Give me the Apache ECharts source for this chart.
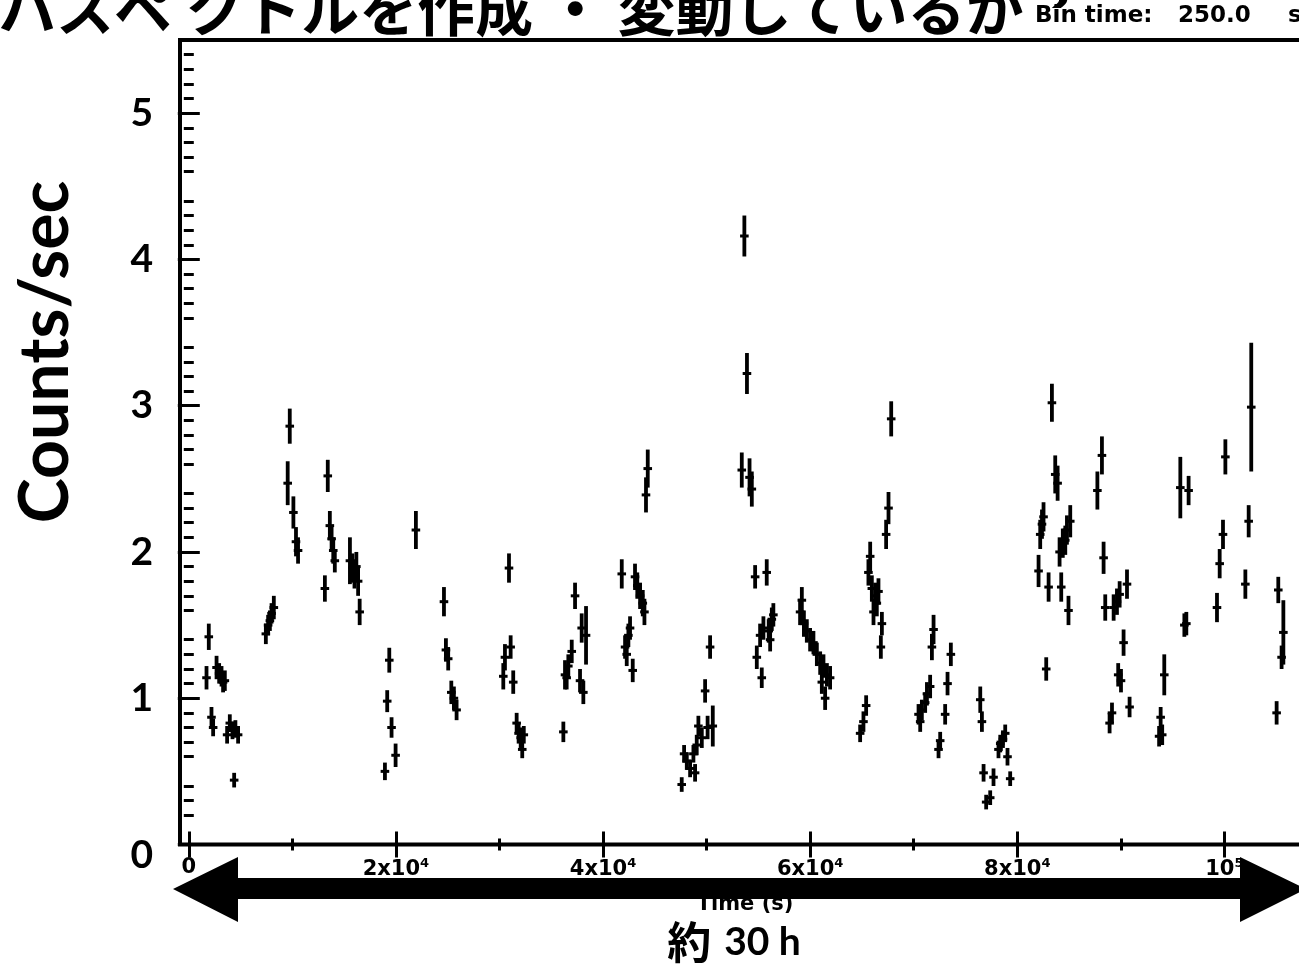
<!DOCTYPE html>
<html>
<head>
<meta charset="utf-8">
<script src="https://cdn.jsdelivr.net/npm/echarts@6/dist/echarts.min.js"></script>
<style>
  html, body { margin: 0; padding: 0; background: #fff; overflow: hidden; }
  #chart { width: 1310px; height: 964px; }
</style>
</head>
<body>
<div id="chart"></div>
<script>
// Light curve, 250 s bins: bin centre time (s), count rate (counts/s), 1-sigma error
const binTime = 250;
const times = [
  1710, 1930, 2190, 2350, 2680, 2930, 3160, 3310, 3480, 3700, 3960, 4220, 4380, 4500, 4760,
  7440, 7660, 7830, 7990, 8210,
  9550, 9750, 10100, 10350, 10550,
  13140, 13420, 13620, 13790, 13950, 14100,
  15560, 15800, 16000, 16180, 16350, 16500,
  18940, 19160, 19360, 19580, 19970,
  21930,
  24640, 24830, 25050, 25350, 25600, 25860,
  30370, 30530, 30920, 31080, 31330, 31660, 31850, 32050, 32200, 32350,
  36170, 36330, 36490, 36650, 36980, 37300, 37780, 37940, 38100, 38360,
  41810, 42130, 42290, 42450, 42610, 42870, 43090, 43310, 43580, 43840, 44000, 44150, 44320,
  47600, 47830, 48090, 48410, 48730, 48890, 49050, 49210, 49540, 49860, 50100, 50340, 50600,
  53400, 53650, 53900, 54150, 54370,
  54690, 54850, 55170, 55330, 55490, 55810, 56000, 56140, 56300, 56450,
  59030, 59200, 59400, 59680, 60000, 60320, 60650, 60970, 61130, 61290, 61450, 61620, 61930,
  64830, 65150, 65410, 65630, 65800, 65960, 66120, 66280, 66440, 66600, 66830, 66930, 67340, 67570, 67830,
  70470, 70630, 70790, 71110, 71280, 71590, 71760, 71920, 72400, 72560, 73040, 73270, 73590,
  76430, 76590, 76750, 77000, 77390, 77710, 78190, 78360, 78620, 78840, 79060, 79320,
  82060, 82220, 82390, 82540, 82800, 83030, 83350, 83670, 83900, 84090, 84250, 84400, 84640, 84800, 84950, 85120,
  87740, 88180, 88340, 88500, 88920, 89150, 89310, 89630, 89750, 89890, 90020, 90270, 90600, 90850,
  93700, 93850, 94000, 94200,
  95750, 96140, 96330, 96550,
  99290, 99550, 99870, 100100,
  102030, 102350, 102600,
  105050, 105210, 105530, 105700
];
const rates = [
  1.14, 1.42, 0.87, 0.80, 1.21, 1.17, 1.15, 1.11, 1.12, 0.75, 0.83, 0.78, 0.44, 0.79, 0.75,
  1.44, 1.50, 1.53, 1.58, 1.62,
  2.47, 2.86, 2.27, 2.07, 2.01,
  1.75, 2.52, 2.18, 2.09, 2.01, 1.94,
  1.94, 1.89, 1.85, 1.90, 1.80, 1.59,
  0.50, 0.98, 1.26, 0.80, 0.61,
  2.15,
  1.66, 1.33, 1.27, 1.04, 1.00, 0.92,
  1.15, 1.28, 1.89, 1.35, 1.11, 0.83, 0.76, 0.73, 0.65, 0.75,
  0.77, 1.16, 1.14, 1.22, 1.32, 1.70, 1.12, 1.48, 1.04, 1.43,
  1.85, 1.35, 1.30, 1.43, 1.48, 1.19, 1.83, 1.77, 1.70, 1.65, 1.59, 2.39, 2.57,
  0.41, 0.62, 0.57, 0.52, 0.62, 0.49, 0.68, 0.81, 0.73, 1.05, 0.80, 1.35, 0.81,
  2.56, 4.16, 3.22, 2.51, 2.43,
  1.83, 1.28, 1.43, 1.14, 1.48, 1.86, 1.46, 1.40, 1.54, 1.57,
  1.59, 1.67, 1.51, 1.46, 1.40, 1.38, 1.30, 1.24, 1.11, 1.22, 1.00, 1.16, 1.14,
  0.76, 0.84, 0.95, 1.86, 1.97, 1.75, 1.59, 1.70, 1.65, 1.73, 1.35, 1.51, 2.12, 2.30, 2.91,
  0.89, 0.84, 0.92, 0.97, 1.03, 1.08, 1.35, 1.47, 0.65, 0.71, 0.89, 1.10, 1.30,
  0.99, 0.84, 0.49, 0.29, 0.32, 0.46, 0.65, 0.69, 0.72, 0.76, 0.60, 0.45,
  1.87, 2.12, 2.19, 2.24, 1.20, 1.76, 3.02, 2.53, 2.47, 2.00, 1.76, 2.06, 2.08, 2.15, 1.60, 2.21,
  2.42, 2.66, 1.96, 1.62, 0.83, 0.90, 1.62, 1.66, 1.16, 1.71, 1.12, 1.38, 1.78, 0.94,
  0.74, 0.87, 0.75, 1.16,
  2.44, 1.50, 1.51, 2.42,
  1.62, 1.92, 2.12, 2.65,
  1.78, 2.21, 2.99,
  0.90, 1.74, 1.28, 1.45
];
const errors = [
  0.08, 0.09, 0.07, 0.06, 0.08, 0.07, 0.07, 0.07, 0.07, 0.06, 0.06, 0.06, 0.05, 0.06, 0.06,
  0.07, 0.07, 0.07, 0.07, 0.08,
  0.15, 0.12, 0.11, 0.10, 0.09,
  0.09, 0.11, 0.10, 0.09, 0.09, 0.08,
  0.16, 0.10, 0.10, 0.10, 0.10, 0.09,
  0.06, 0.075, 0.085, 0.07, 0.08,
  0.13,
  0.10, 0.08, 0.08, 0.08, 0.08, 0.07,
  0.09, 0.09, 0.10, 0.08, 0.08, 0.07, 0.07, 0.07, 0.06, 0.06,
  0.07, 0.10, 0.08, 0.08, 0.08, 0.09, 0.08, 0.10, 0.08, 0.20,
  0.10, 0.08, 0.08, 0.08, 0.08, 0.08, 0.09, 0.09, 0.09, 0.09, 0.09, 0.12, 0.13,
  0.05, 0.06, 0.06, 0.06, 0.06, 0.06, 0.07, 0.07, 0.07, 0.08, 0.08, 0.08, 0.14,
  0.12, 0.14, 0.14, 0.13, 0.12,
  0.08, 0.08, 0.08, 0.07, 0.08, 0.09, 0.08, 0.08, 0.08, 0.08,
  0.09, 0.09, 0.09, 0.08, 0.08, 0.08, 0.08, 0.08, 0.08, 0.08, 0.08, 0.08, 0.08,
  0.06, 0.07, 0.07, 0.09, 0.10, 0.09, 0.09, 0.09, 0.09, 0.09, 0.08, 0.08, 0.10, 0.11, 0.12,
  0.07, 0.07, 0.07, 0.07, 0.08, 0.08, 0.09, 0.10, 0.06, 0.06, 0.07, 0.08, 0.08,
  0.09, 0.07, 0.06, 0.05, 0.05, 0.06, 0.06, 0.06, 0.06, 0.06, 0.06, 0.05,
  0.11, 0.10, 0.10, 0.10, 0.08, 0.10, 0.13, 0.13, 0.12, 0.10, 0.10, 0.10, 0.10, 0.10, 0.10, 0.11,
  0.13, 0.13, 0.11, 0.09, 0.07, 0.07, 0.09, 0.09, 0.08, 0.09, 0.08, 0.09, 0.10, 0.07,
  0.07, 0.07, 0.07, 0.14,
  0.21, 0.08, 0.08, 0.10,
  0.10, 0.10, 0.10, 0.12,
  0.10, 0.11, 0.44,
  0.08, 0.09, 0.08, 0.22
];

// Axis ticks and labels
const xMajorTicks = [0, 20000, 40000, 60000, 80000, 100000];
const xMajorLabels = ['0', '{n|2x10}{s|4}', '{n|4x10}{s|4}', '{n|6x10}{s|4}', '{n|8x10}{s|4}', '{n|10}{s|5}'];
const xMinorTicks = [10000, 30000, 50000, 70000, 90000];
const yMajorTicks = [0, 1, 2, 3, 4, 5];
const yMajorLabels = ['{z|0}', '1', '2', '3', '4', '5'];
const yMinorTicks = [];
for (let v = 2; v < 55; v++) if (v % 5 !== 0) yMinorTicks.push(v / 10);

const X_MIN = -850, X_MAX = 107500, Y_MIN = 0, Y_MAX = 5.5;

const chart = echarts.init(document.getElementById('chart'), null, { renderer: 'canvas' });

const tickStyle = { color: '#000', width: 3 };
function xAxisDef(pos, ticks, len, withLabels) {
  const ax = {
    type: 'value', position: pos, min: X_MIN, max: X_MAX,
    axisLine: { show: false }, splitLine: { show: false },
    axisTick: { show: true, inside: true, length: len, lineStyle: tickStyle, customValues: ticks },
    axisLabel: { show: false }
  };
  if (withLabels) {
    ax.axisLabel = {
      show: true, customValues: ticks, margin: 13,
      formatter: (v) => xMajorLabels[xMajorTicks.indexOf(v)] || '',
      color: '#000', fontFamily: 'DejaVu Sans', fontWeight: 'bold', fontSize: 21,
      rich: {
        n: { fontFamily: 'DejaVu Sans', fontWeight: 'bold', fontSize: 21, color: '#000', lineHeight: 24 },
        s: { fontFamily: 'DejaVu Sans', fontWeight: 'bold', fontSize: 13, color: '#000', lineHeight: 12, verticalAlign: 'top' }
      }
    };
    ax.name = 'Time (s)';
    ax.nameLocation = 'middle';
    ax.nameGap = 50;
    ax.nameTextStyle = { fontFamily: 'DejaVu Sans', fontWeight: 'bold', fontSize: 21, color: '#000', padding: [0, 0, 0, 8] };
  }
  return ax;
}
function yAxisDef(pos, ticks, len, withLabels) {
  const ax = {
    type: 'value', position: pos, min: Y_MIN, max: Y_MAX,
    axisLine: { show: false }, splitLine: { show: false },
    axisTick: { show: true, inside: true, length: len, lineStyle: tickStyle, customValues: ticks },
    axisLabel: { show: false }
  };
  if (withLabels) {
    ax.axisLabel = {
      show: true, customValues: ticks, margin: 27,
      formatter: (v) => yMajorLabels[yMajorTicks.indexOf(v)] || '',
      color: '#000', fontFamily: 'Lato', fontWeight: 'bold', fontSize: 39,
      rich: { z: { fontFamily: 'Lato', fontWeight: 'bold', fontSize: 39, color: '#000', padding: [22, 0, 0, 0] } }
    };
  }
  return ax;
}

const points = times.map((t, i) => [t, rates[i], errors[i]]);

const option = {
  backgroundColor: '#fff',
  animation: false,
  grid: {
    left: 180, right: 8, top: 40, bottom: 119.5,
    show: true, borderColor: '#000', borderWidth: 4, backgroundColor: 'transparent',
    outerBoundsMode: 'none'
  },
  xAxis: [
    xAxisDef('bottom', xMajorTicks, 13, true),
    xAxisDef('bottom', xMinorTicks, 6, false),
    xAxisDef('top', xMajorTicks, 13, false),
    xAxisDef('top', xMinorTicks, 6, false)
  ],
  yAxis: [
    yAxisDef('left', yMajorTicks, 11, true),
    yAxisDef('left', yMinorTicks, 5, false),
    yAxisDef('right', yMajorTicks, 11, false),
    yAxisDef('right', yMinorTicks, 5, false)
  ],
  series: [{
    type: 'custom',
    xAxisIndex: 0, yAxisIndex: 0,
    data: points,
    encode: { x: 0, y: 1 },
    renderItem: function (params, api) {
      const t = api.value(0), r = api.value(1), e = api.value(2);
      const top = api.coord([t, r + e]);
      const bot = api.coord([t, r - e]);
      const l = api.coord([t - binTime / 2, r]);
      const rt = api.coord([t + binTime / 2, r]);
      return {
        type: 'group',
        children: [
          { type: 'line', shape: { x1: top[0], y1: top[1], x2: bot[0], y2: bot[1] },
            style: { stroke: '#000', lineWidth: 3.8 } },
          { type: 'line', shape: { x1: l[0] - 3, y1: l[1], x2: rt[0] + 3, y2: rt[1] },
            style: { stroke: '#000', lineWidth: 3 } }
        ]
      };
    }
  }],
  graphic: [
    // slide heading (upper part runs off the top edge)
    { type: 'text', x: -2, y: 9, z: 10,
      style: { text: 'ハスペ クトルを作成 ・ 変動しているか？', fill: '#000',
               font: 'bold 58px "Noto Sans CJK JP"', textVerticalAlign: 'middle' } },
    { type: 'rect', shape: { x: 1026, y: 8, width: 290, height: 30 }, z: 11,
      style: { fill: '#fff' } },
    { type: 'text', x: 1035, y: 28, z: 12,
      style: { text: 'Bin time:', fill: '#000', font: 'bold 23px "DejaVu Sans"', textVerticalAlign: 'bottom' } },
    { type: 'text', x: 1178, y: 28, z: 12,
      style: { text: '250.0', fill: '#000', font: 'bold 23px "DejaVu Sans"', textVerticalAlign: 'bottom' } },
    { type: 'text', x: 1288, y: 28, z: 12,
      style: { text: 's', fill: '#000', font: 'bold 23px "DejaVu Sans"', textVerticalAlign: 'bottom' } },
    // y-axis title
    { type: 'text', x: 46, y: 352, rotation: Math.PI / 2, z: 10,
      style: { text: 'Counts/sec', fill: '#000', font: 'bold 68px Lato',
               textAlign: 'center', textVerticalAlign: 'middle' } },
    // double-headed span arrow
    { type: 'polygon', z: 20,
      shape: { points: [[173, 889], [238, 857], [238, 878], [1240, 878], [1240, 857], [1306, 889],
                        [1240, 922], [1240, 899], [238, 899], [238, 922]] },
      style: { fill: '#000' } },
    { type: 'text', x: 734, y: 942, z: 20,
      style: { text: '{c|約}{l|30 h}', textAlign: 'center', textVerticalAlign: 'middle',
               rich: { c: { font: 'bold 44px "Noto Sans CJK JP"', fill: '#000', padding: [0, 13, 0, 0] },
                       l: { font: 'bold 39px Lato', fill: '#000' } } } }
  ]
};
chart.setOption(option);
</script>
</body>
</html>
